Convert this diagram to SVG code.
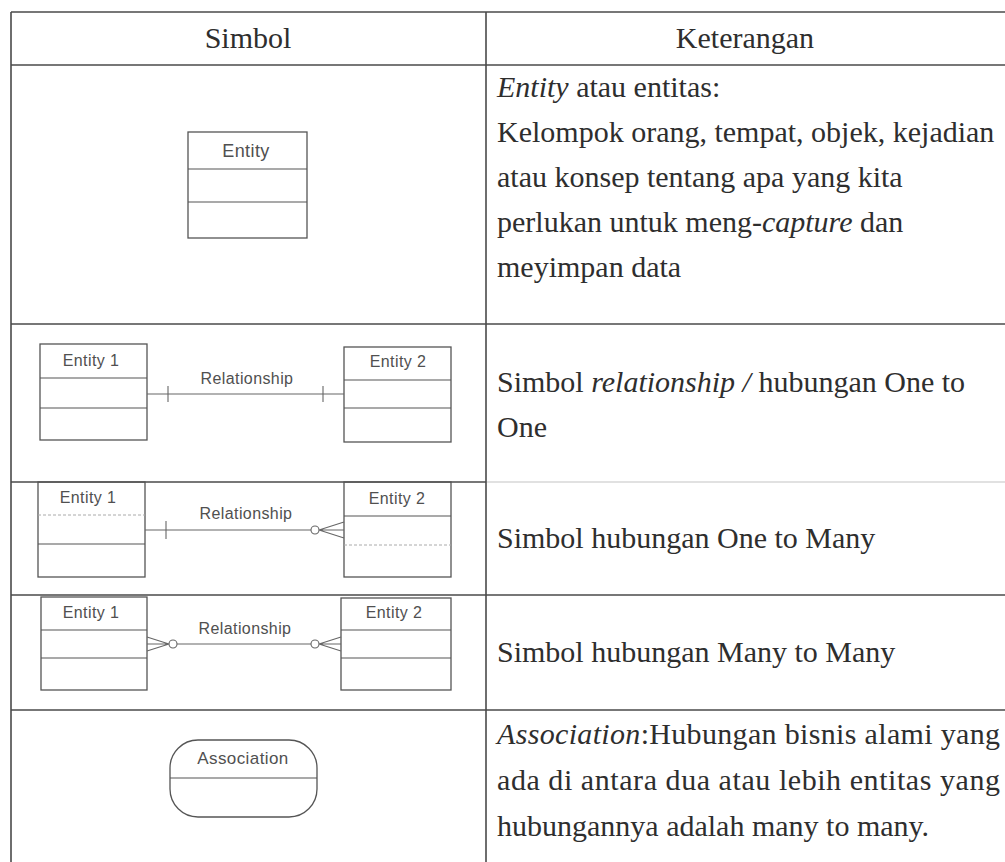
<svg xmlns="http://www.w3.org/2000/svg" width="1005" height="862" viewBox="0 0 1005 862">
  <style>
    .grid { stroke: #4a4a4a; stroke-width: 1.6; fill: none; }
    .grid-faint { stroke: #c4c4c4; stroke-width: 1.2; fill: none; }
    .box { stroke: #555; stroke-width: 1.3; fill: none; }
    .sep { stroke: #555; stroke-width: 1.2; }
    .sep-faint { stroke: #aaa; stroke-width: 1; stroke-dasharray: 3 2; }
    .conn { stroke: #666; stroke-width: 1.1; fill: none; }
    .head { font-family: "Liberation Serif", "Times New Roman", serif; font-size: 30px; fill: #2e2e2e; text-anchor: middle; }
    .desc { font-family: "Liberation Serif", "Times New Roman", serif; font-size: 30px; fill: #2e2e2e; }
    .lbl { font-family: "Liberation Sans", Arial, sans-serif; font-size: 16px; letter-spacing: 0.4px; fill: #505050; text-anchor: middle; }
    .lbl-big { font-family: "Liberation Sans", Arial, sans-serif; font-size: 18px; letter-spacing: 0.4px; fill: #505050; text-anchor: middle; }
  </style>
  <rect width="1005" height="862" fill="#ffffff"/>

  <!-- table grid -->
  <g id="table">
    <line class="grid" x1="11" y1="12" x2="1005" y2="12"/>
    <line class="grid" x1="11" y1="65" x2="1005" y2="65"/>
    <line class="grid" x1="11" y1="324" x2="1005" y2="324"/>
    <line class="grid" x1="11" y1="482" x2="486" y2="482"/>
    <line class="grid-faint" x1="486" y1="482" x2="1005" y2="482"/>
    <line class="grid" x1="11" y1="595" x2="1005" y2="595"/>
    <line class="grid" x1="11" y1="710" x2="1005" y2="710"/>
    <line class="grid" x1="11" y1="12" x2="11" y2="862"/>
    <line class="grid" x1="486" y1="12" x2="486" y2="862"/>
    <text class="head" x="248" y="48">Simbol</text>
    <text class="head" x="745" y="48">Keterangan</text>
  </g>

  <!-- row 1: entity -->
  <g id="entity">
    <rect class="box" x="188" y="132" width="119" height="106"/>
    <line class="sep" x1="188" y1="169" x2="307" y2="169"/>
    <line class="sep" x1="188" y1="202" x2="307" y2="202"/>
    <text class="lbl-big" x="246" y="157">Entity</text>
  </g>
  <g id="desc-entity">
    <text class="desc" x="497" y="97"><tspan font-style="italic">Entity</tspan> atau entitas:</text>
    <text class="desc" x="497" y="142">Kelompok orang, tempat, objek, kejadian</text>
    <text class="desc" x="497" y="187">atau konsep tentang apa yang kita</text>
    <text class="desc" x="497" y="232">perlukan untuk meng-<tspan font-style="italic">capture</tspan> dan</text>
    <text class="desc" x="497" y="277">meyimpan data</text>
  </g>

  <!-- row 2: one to one -->
  <g id="r2-entity1">
    <rect class="box" x="40" y="344" width="107" height="96"/>
    <line class="sep" x1="40" y1="378" x2="147" y2="378"/>
    <line class="sep" x1="40" y1="408" x2="147" y2="408"/>
    <text class="lbl" x="91" y="366">Entity 1</text>
  </g>
  <g id="r2-entity2">
    <rect class="box" x="344" y="347" width="107" height="95"/>
    <line class="sep" x1="344" y1="380" x2="451" y2="380"/>
    <line class="sep" x1="344" y1="408" x2="451" y2="408"/>
    <text class="lbl" x="398" y="367">Entity 2</text>
  </g>
  <text class="lbl" x="247" y="384">Relationship</text>
  <g id="desc-one-to-one">
    <text class="desc" x="497" y="392">Simbol <tspan font-style="italic">relationship /</tspan> hubungan One to</text>
    <text class="desc" x="497" y="437">One</text>
  </g>

  <!-- row 3: one to many -->
  <g id="r3-entity1">
    <rect class="box" x="38" y="482" width="107" height="95"/>
    <line class="sep-faint" x1="38" y1="515" x2="145" y2="515"/>
    <line class="sep" x1="38" y1="544" x2="145" y2="544"/>
    <text class="lbl" x="88" y="503">Entity 1</text>
  </g>
  <g id="r3-entity2">
    <rect class="box" x="344" y="482" width="107" height="95"/>
    <line class="sep" x1="344" y1="516" x2="451" y2="516"/>
    <line class="sep-faint" x1="344" y1="545" x2="451" y2="545"/>
    <text class="lbl" x="397" y="504">Entity 2</text>
  </g>
  <text class="lbl" x="246" y="519">Relationship</text>
  <text class="desc" id="desc-one-to-many" x="497" y="548">Simbol hubungan One to Many</text>

  <!-- row 4: many to many -->
  <g id="r4-entity1">
    <rect class="box" x="41" y="597" width="106" height="93"/>
    <line class="sep" x1="41" y1="630" x2="147" y2="630"/>
    <line class="sep" x1="41" y1="658" x2="147" y2="658"/>
    <text class="lbl" x="91" y="618">Entity 1</text>
  </g>
  <g id="r4-entity2">
    <rect class="box" x="341" y="598" width="110" height="92"/>
    <line class="sep" x1="341" y1="630" x2="451" y2="630"/>
    <line class="sep" x1="341" y1="658" x2="451" y2="658"/>
    <text class="lbl" x="394" y="618">Entity 2</text>
  </g>
  <text class="lbl" x="245" y="634">Relationship</text>
  <text class="desc" id="desc-many-to-many" x="497" y="662">Simbol hubungan Many to Many</text>

  <!-- row 5: association -->
  <g id="association">
    <rect class="box" x="170" y="740" width="147" height="77" rx="28" ry="28"/>
    <line class="sep" x1="170" y1="778" x2="317" y2="778"/>
    <text class="lbl-big" x="243" y="764" style="font-size:17px">Association</text>
  </g>
  <g id="desc-association">
    <text class="desc" x="497" y="744" textLength="503" lengthAdjust="spacing"><tspan font-style="italic">Association</tspan>:Hubungan bisnis alami yang</text>
    <text class="desc" x="497" y="790" textLength="503" lengthAdjust="spacing">ada di antara dua atau lebih entitas yang</text>
    <text class="desc" x="497" y="836">hubungannya adalah many to many.</text>
  </g>

  <!-- connectors -->
  <g id="connectors">
    <!-- one to one -->
    <line class="conn" x1="147" y1="394" x2="344" y2="394"/>
    <line class="conn" x1="168" y1="386" x2="168" y2="402"/>
    <line class="conn" x1="323" y1="386" x2="323" y2="402"/>
    <!-- one to many -->
    <line class="conn" x1="145" y1="530" x2="311" y2="530"/>
    <line class="conn" x1="166" y1="521" x2="166" y2="539"/>
    <circle class="conn" cx="315" cy="530" r="4"/>
    <path class="conn" d="M319 530 L344 522 M319 530 L344 530 M319 530 L344 538"/>
    <!-- many to many -->
    <path class="conn" d="M147 637 L169 644 M147 644 L169 644 M147 651 L169 644"/>
    <circle class="conn" cx="173" cy="644" r="4"/>
    <line class="conn" x1="177" y1="644" x2="311" y2="644"/>
    <circle class="conn" cx="315" cy="644" r="4"/>
    <path class="conn" d="M319 644 L341 637 M319 644 L341 644 M319 644 L341 651"/>
  </g>
</svg>
